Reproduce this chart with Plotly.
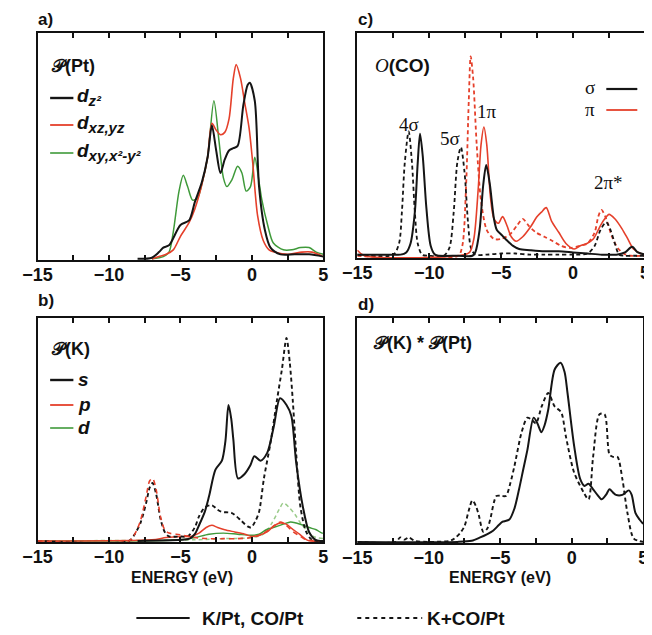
import plotly.graph_objects as go

# ---------------- data ----------------
# Panel a: P(Pt) d-states
a_dz2_x = [-8, -7, -6.5, -6.2, -5.8, -5.0, -4.4, -4.0, -3.5, -3.1, -2.8, -2.5, -2.2, -1.9, -1.6, -1.3, -1.0, -0.6, -0.3, -0.15, 0.2, 0.5, 0.9, 1.3, 2.0, 3.0, 4.0, 5.0]
a_dz2_y = [0, 0.005, 0.03, 0.05, 0.06, 0.15, 0.17, 0.25, 0.34, 0.45, 0.59, 0.48, 0.38, 0.44, 0.48, 0.49, 0.50, 0.68, 0.77, 0.78, 0.70, 0.32, 0.13, 0.05, 0.02, 0.02, 0.02, 0.01]
a_dxz_x = [-7, -6.5, -6, -5.5, -5.0, -4.4, -4.0, -3.5, -3.1, -2.8, -2.5, -2.2, -1.9, -1.6, -1.3, -1.1, -0.8, -0.5, -0.2, 0.05, 0.4, 0.8, 1.2, 1.6, 2.5, 3.5, 4.2, 5]
a_dxz_y = [0, 0.01, 0.02, 0.04, 0.1, 0.16, 0.22, 0.33, 0.45, 0.60, 0.57, 0.55, 0.56, 0.62, 0.80, 0.86, 0.80, 0.69, 0.58, 0.43, 0.19, 0.08, 0.04, 0.03, 0.02, 0.03, 0.03, 0.01]
a_dxy_x = [-7, -6.2, -5.8, -5.5, -5.1, -4.8, -4.5, -4.15, -3.8, -3.47, -3.1, -2.66, -2.3, -2.0, -1.75, -1.4, -1.0, -0.7, -0.4, -0.1, 0.2, 0.5, 0.7, 1.1, 1.5, 2.2, 2.8, 3.4, 4.0, 4.5, 5]
a_dxy_y = [0, 0.01, 0.03, 0.12, 0.3, 0.37, 0.32, 0.26, 0.27, 0.34, 0.45, 0.70, 0.52, 0.36, 0.32, 0.35, 0.41, 0.38, 0.30, 0.32, 0.45, 0.34, 0.26, 0.15, 0.07, 0.04, 0.04, 0.05, 0.05, 0.03, 0.02]

# Panel c: O(CO) sigma / pi
c_sig_x = [-15, -12.5, -12, -11.6, -11.3, -11.0, -10.8, -10.64, -10.45, -10.2, -9.9, -9.6, -9.3, -8, -7, -6.8, -6.5, -6.25, -6.04, -5.8, -5.5, -5.3, -5.0, -4.7, -4.2, -3.75, -3, -2, -1, 0, 1, 2, 3, 3.6, 4.1, 4.5, 5]
c_sig_y = [0.01, 0.01, 0.01, 0.02, 0.06, 0.2, 0.42, 0.55, 0.45, 0.22, 0.05, 0.01, 0.005, 0.005, 0.005, 0.02, 0.12, 0.32, 0.41, 0.33, 0.17, 0.12, 0.1, 0.08, 0.05, 0.035, 0.03, 0.025, 0.025, 0.02, 0.015, 0.01, 0.01, 0.02, 0.045, 0.02, 0.01]
c_sig_k_x = [-15, -12.5, -12.1, -11.9, -11.7, -11.43, -11.2, -11.0, -10.8, -10.5, -10, -9, -8.6, -8.3, -8.05, -7.8, -7.55, -7.3, -7.1, -6.8, -6, -5, -4, -3, -2, -1, 0, 1, 1.5, 1.9, 2.3, 2.6, 2.9, 3.2, 3.6, 4.2, 5]
c_sig_k_y = [0.01, 0.01, 0.06, 0.2, 0.42, 0.56, 0.42, 0.2, 0.06, 0.01, 0.005, 0.005, 0.04, 0.2, 0.42, 0.49, 0.38, 0.15, 0.04, 0.01, 0.01, 0.015, 0.015, 0.01, 0.01, 0.01, 0.01, 0.015, 0.05, 0.12, 0.155, 0.12, 0.06, 0.01, 0.005, 0.005, 0.005]
c_pi_x = [-15, -14.5, -8, -7.2, -6.9, -6.6, -6.4, -6.2, -6.0, -5.75, -5.5, -5.2, -4.9, -4.6, -4.3, -3.96, -3.5, -3.0, -2.5, -2.2, -1.87, -1.5, -1.0, -0.5, 0.08, 0.5, 0.96, 1.4, 1.9, 2.2, 2.5, 2.9, 3.4, 3.8, 4.2, 4.7, 5]
c_pi_y = [0.03, 0.005, 0.005, 0.02, 0.08, 0.3, 0.5, 0.58, 0.5, 0.27, 0.17, 0.15, 0.18, 0.14, 0.09, 0.07, 0.09, 0.13, 0.18, 0.2, 0.22, 0.16, 0.11, 0.06, 0.035, 0.05, 0.06, 0.08, 0.14, 0.17, 0.19, 0.17, 0.125, 0.08, 0.035, 0.015, 0.01]
c_pi_k_x = [-15, -8, -7.7, -7.45, -7.25, -7.12, -6.95, -6.7, -6.4, -6.0, -5.5, -5.0, -4.4, -3.9, -3.5, -3.1, -2.6, -2.0, -1.4, -0.86, -0.2, 0.5, 1.0, 1.5, 1.75, 1.97, 2.3, 2.7, 3.1, 3.5, 4, 5]
c_pi_k_y = [0.005, 0.005, 0.05, 0.3, 0.7, 0.895, 0.8, 0.5, 0.25, 0.12, 0.08, 0.08, 0.1, 0.14, 0.17, 0.14, 0.11, 0.09, 0.07, 0.05, 0.04, 0.05, 0.06, 0.11, 0.18, 0.21, 0.17, 0.09, 0.04, 0.015, 0.005, 0.005]

# Panel b: P(K) s, p, d
b_s_x = [-8, -5, -4.36, -4.0, -3.7, -3.3, -3.0, -2.55, -2.1, -1.85, -1.64, -1.45, -1.3, -0.97, -0.51, -0.1, 0.17, 0.6, 1.07, 1.52, 1.97, 2.42, 2.76, 3.1, 3.56, 4.0, 4.46, 5]
b_s_y = [0, 0.005, 0.01, 0.03, 0.07, 0.13, 0.2, 0.32, 0.36, 0.45, 0.61, 0.55, 0.455, 0.28, 0.30, 0.34, 0.38, 0.36, 0.395, 0.51, 0.64, 0.61, 0.56, 0.35, 0.155, 0.04, 0.005, 0]
b_s_k_x = [-15, -8.6, -8.2, -7.8, -7.4, -7.15, -6.95, -6.7, -6.4, -6.1, -5.8, -5, -4.5, -4.0, -3.7, -3.3, -2.8, -2.4, -2.1, -1.4, -0.74, -0.3, -0.06, 0.25, 0.5, 0.84, 1.3, 1.75, 2.1, 2.42, 2.65, 2.87, 3.1, 3.4, 3.8, 4.2, 5]
b_s_k_y = [0, 0.0, 0.03, 0.08, 0.17, 0.24, 0.26, 0.21, 0.1, 0.04, 0.02, 0.02, 0.02, 0.06, 0.11, 0.15, 0.16, 0.14, 0.13, 0.125, 0.09, 0.065, 0.06, 0.09, 0.13, 0.28, 0.44, 0.63, 0.77, 0.91, 0.8, 0.62, 0.39, 0.15, 0.04, 0.005, 0]
b_p_x = [-15, -7, -6, -5, -4.3, -3.7, -3.2, -2.8, -2.4, -1.9, -1.2, -0.5, 0, 0.5, 1.07, 1.5, 1.97, 2.4, 2.8, 3.33, 3.7, 4.0, 5]
b_p_y = [0, 0.005, 0.015, 0.02, 0.02, 0.035, 0.06, 0.07, 0.06, 0.05, 0.04, 0.03, 0.02, 0.025, 0.04, 0.065, 0.08, 0.075, 0.055, 0.03, 0.01, 0.0, 0]
b_p_k_x = [-15, -8.6, -8.2, -7.8, -7.4, -7.15, -6.95, -6.7, -6.4, -6.1, -5.8, -5.3, -4.8, -4, -3, -2, -1, 0, 0.7, 1.2, 1.6, 2.0, 2.4, 2.9, 3.4, 3.8, 5]
b_p_k_y = [0, 0.0, 0.03, 0.09, 0.2, 0.27, 0.28, 0.23, 0.11, 0.05, 0.035, 0.03, 0.025, 0.015, 0.01, 0.01, 0.01, 0.015, 0.03, 0.05, 0.07, 0.085, 0.07, 0.04, 0.02, 0.005, 0]
b_d_x = [-15, -5, -4, -3, -2, -1, 0, 0.5, 1, 1.5, 2.2, 2.7, 3.1, 3.6, 4, 4.5, 4.9, 5]
b_d_y = [0, 0.005, 0.015, 0.03, 0.035, 0.03, 0.025, 0.03, 0.05, 0.06, 0.075, 0.085, 0.08, 0.07, 0.06, 0.05, 0.035, 0.035]
b_d_k_x = [-15, -4, -2, 0, 0.8, 1.4, 1.9, 2.2, 2.6, 3.0, 3.4, 3.8, 4.3, 5]
b_d_k_y = [0, 0.005, 0.01, 0.015, 0.03, 0.08, 0.14, 0.17, 0.15, 0.12, 0.08, 0.05, 0.02, 0.01]

# Panel d: P(K) * P(Pt)
d_x = [-15, -8, -7.0, -6.4, -5.9, -5.5, -5.1, -4.83, -4.36, -4.0, -3.68, -3.4, -3.1, -2.66, -2.4, -2.12, -1.9, -1.64, -1.19, -0.78, -0.5, -0.29, 0.17, 0.6, 0.9, 1.18, 1.5, 1.8, 2.1, 2.4, 2.65, 2.9, 3.1, 3.55, 4.0, 4.2, 4.46, 4.75, 5]
d_y = [0, 0, 0.005, 0.02, 0.035, 0.05, 0.075, 0.09, 0.10, 0.15, 0.235, 0.32, 0.41, 0.555, 0.53, 0.49, 0.52, 0.59, 0.77, 0.80, 0.76, 0.665, 0.43, 0.28, 0.25, 0.26, 0.235, 0.21, 0.19, 0.21, 0.235, 0.22, 0.21, 0.21, 0.23, 0.21, 0.13, 0.1, 0.08]
d_k_x = [-15, -12.3, -12, -11.7, -11.4, -11, -10, -8.5, -8.2, -7.8, -7.5, -7.2, -6.95, -6.7, -6.5, -6.18, -5.9, -5.7, -5.26, -4.9, -4.6, -4.3, -4.0, -3.5, -3.1, -2.8, -2.5, -2.1, -1.64, -1.19, -0.74, -0.4, 0.17, 0.85, 1.18, 1.5, 1.95, 2.3, 2.65, 2.9, 3.2, 3.55, 3.9, 4.35, 5]
d_k_y = [0, 0, 0.02, 0.01, 0.02, 0.005, 0, 0.005, 0.015, 0.04, 0.07, 0.14, 0.185, 0.16, 0.12, 0.045, 0.06, 0.1, 0.205, 0.205, 0.205, 0.26, 0.34, 0.49, 0.555, 0.545, 0.53, 0.605, 0.665, 0.605, 0.58, 0.47, 0.31, 0.22, 0.19, 0.38, 0.57, 0.57, 0.39, 0.38, 0.38, 0.28, 0.13, 0.015, 0]

tick_vals = [-15, -10, -5, 0, 5]
tick_text = ["\u221215", "\u221210", "\u22125", "0", "5"]
minor_tick_vals = [-12.5, -7.5, -2.5, 2.5]

# ---------------- styling ----------------
# The page body has an 8px default margin, so the figure is made 8px smaller
# and every reference pixel position is shifted by that margin.
OFF = 8
W, H = 652 - OFF, 635 - OFF
BLACK = "#151515"
RED = "#e5402b"
GREEN = "#3f9a3a"
DASH = "4px,3px"
SANS = "Liberation Sans, Arial, sans-serif"
SERIF = "Liberation Serif, Times New Roman, serif"


def px(x):
    return (x - OFF) / W


def py(y):
    return 1 - (y - OFF) / H


fig = go.Figure()


def add(x, y, color, width, dash, ax):
    fig.add_trace(go.Scatter(
        x=x, y=y, mode="lines", xaxis="x" + ax, yaxis="y" + ax,
        line=dict(color=color, width=width, dash=dash, shape="spline", smoothing=0.8),
        showlegend=False, hoverinfo="skip"))


# panel a (axis 1)
add(a_dxy_x, a_dxy_y, GREEN, 1.5, "solid", "")
add(a_dxz_x, a_dxz_y, RED, 1.6, "solid", "")
add(a_dz2_x, a_dz2_y, BLACK, 2.0, "solid", "")
# panel c (axis 2)
add(c_pi_k_x, c_pi_k_y, RED, 1.8, DASH, "2")
add(c_sig_k_x, c_sig_k_y, BLACK, 1.8, DASH, "2")
add(c_pi_x, c_pi_y, RED, 1.6, "solid", "2")
add(c_sig_x, c_sig_y, BLACK, 2.0, "solid", "2")
# panel b (axis 3)
add(b_d_k_x, b_d_k_y, "#9acb8a", 1.5, DASH, "3")
add(b_d_x, b_d_y, GREEN, 1.4, "solid", "3")
add(b_p_x, b_p_y, RED, 1.5, "solid", "3")
add(b_s_k_x, b_s_k_y, BLACK, 1.9, DASH, "3")
add(b_p_k_x, b_p_k_y, RED, 1.6, "5px,4px", "3")
add(b_s_x, b_s_y, BLACK, 2.0, "solid", "3")
# panel d (axis 4)
add(d_k_x, d_k_y, BLACK, 1.9, DASH, "4")
add(d_x, d_y, BLACK, 2.0, "solid", "4")

domains = {
    "": ([px(23), px(318)], [py(260), py(33)]),
    "2": ([px(353), px(650)], [py(258), py(33)]),
    "3": ([px(23), px(318)], [py(542), py(318)]),
    "4": ([px(353), px(648)], [py(543), py(318)]),
}

layout = dict(
    width=W, height=H, margin=dict(l=0, r=0, t=0, b=0),
    paper_bgcolor="white", plot_bgcolor="white",
    font=dict(family=SANS, color="#111"),
)
for k, (xd, yd) in domains.items():
    layout["xaxis" + k] = dict(
        domain=xd, range=[-15, 5], anchor="y" + k,
        showline=True, linecolor="#111", linewidth=2.2, mirror="allticks",
        ticks="inside", ticklen=5, tickwidth=1.6, tickcolor="#111",
        tickvals=tick_vals, ticktext=tick_text, ticklabelstandoff=-3,
        minor=dict(tickvals=minor_tick_vals, ticks="inside", ticklen=5,
                   tickwidth=1.6, tickcolor="#111", showgrid=False),
        tickfont=dict(family=SANS, size=18, color="#111", weight="bold"),
        showgrid=False, zeroline=False, fixedrange=True,
    )
    layout["yaxis" + k] = dict(
        domain=yd, range=[-0.005, 1.0], anchor="x" + k,
        showline=True, linecolor="#111", linewidth=2.2, mirror=True,
        showticklabels=False, ticks="", showgrid=False, zeroline=False, fixedrange=True,
    )
fig.update_layout(**layout)

anns = []
shapes = []


def text(x, y, s, size=17, family=SANS, anchor="left", bold=True, italic=False, color="#111"):
    anns.append(dict(x=px(x), y=py(y), xref="paper", yref="paper", text=s, showarrow=False,
                     xanchor=anchor, yanchor="middle",
                     font=dict(family=family, size=size, color=color,
                               weight="bold" if bold else "normal",
                               style="italic" if italic else "normal")))


def seg(x0, x1, y, color, width=2.2, dash="solid"):
    shapes.append(dict(type="line", xref="paper", yref="paper", x0=px(x0), x1=px(x1),
                       y0=py(y), y1=py(y), line=dict(color=color, width=width, dash=dash)))


SCRIPT_P = "<span style='font-family:DejaVu Serif'>\U0001D4AB</span>"


def sub(s):
    return "<sub><span style='font-size:15px'>" + s + "</span></sub>"


# panel labels
text(21, 20, "a)", 17)
text(352, 19, "c)", 17)
text(21, 300, "b)", 17)
text(352, 304, "d)", 17)

# panel a legend
text(35, 66, SCRIPT_P + "(Pt)", 18)
seg(36, 60, 98, BLACK, 2.4)
seg(36, 60, 125, RED, 1.8)
seg(36, 60, 153, GREEN, 1.6)
text(62, 97, "d" + sub("z\u00b2"), 19, italic=True)
text(62, 124, "d" + sub("xz,yz"), 19, italic=True)
text(62, 152, "d" + sub("xy,x\u00b2-y\u00b2"), 19, italic=True)

# panel b legend
text(35, 348, SCRIPT_P + "(K)", 18)
seg(36, 60, 380, BLACK, 2.4)
seg(36, 60, 405, RED, 1.8)
seg(36, 60, 428, GREEN, 1.6)
text(63, 379, "s", 19, italic=True)
text(63, 404, "p", 19, italic=True)
text(63, 427, "d", 19, italic=True)

# panel c texts
text(369, 65, "<span style='font-family:Liberation Serif;font-style:italic;font-weight:normal'>O</span>(CO)", 19)
text(406, 124, "4\u03c3", 19, SERIF, "center", bold=False)
text(449, 139, "5\u03c3", 19, SERIF, "center", bold=False)
text(487, 111, "1\u03c0", 19, SERIF, "center", bold=False)
text(612, 183, "2\u03c0*", 19, SERIF, "center", bold=False)
text(600, 88, "\u03c3", 19, SERIF, "right", bold=False)
text(600, 109, "\u03c0", 19, SERIF, "right", bold=False)
seg(610, 642, 89, BLACK, 2.2)
seg(610, 642, 110, RED, 1.8)

# panel d text
text(367, 342, SCRIPT_P + "(K) * " + SCRIPT_P + "(Pt)", 18)

# x titles
text(172, 577, "ENERGY (eV)", 16, anchor="center")
text(500, 577, "ENERGY (eV)", 16, anchor="center")

# bottom legend
seg(125, 180, 618, BLACK, 2.2)
text(191, 618, "K/Pt, CO/Pt", 19)
seg(353, 420, 618, BLACK, 2.0, "4px,4px")
text(423, 618, "K+CO/Pt", 19)

fig.update_layout(annotations=anns, shapes=shapes)
fig.write_html("out.html")
